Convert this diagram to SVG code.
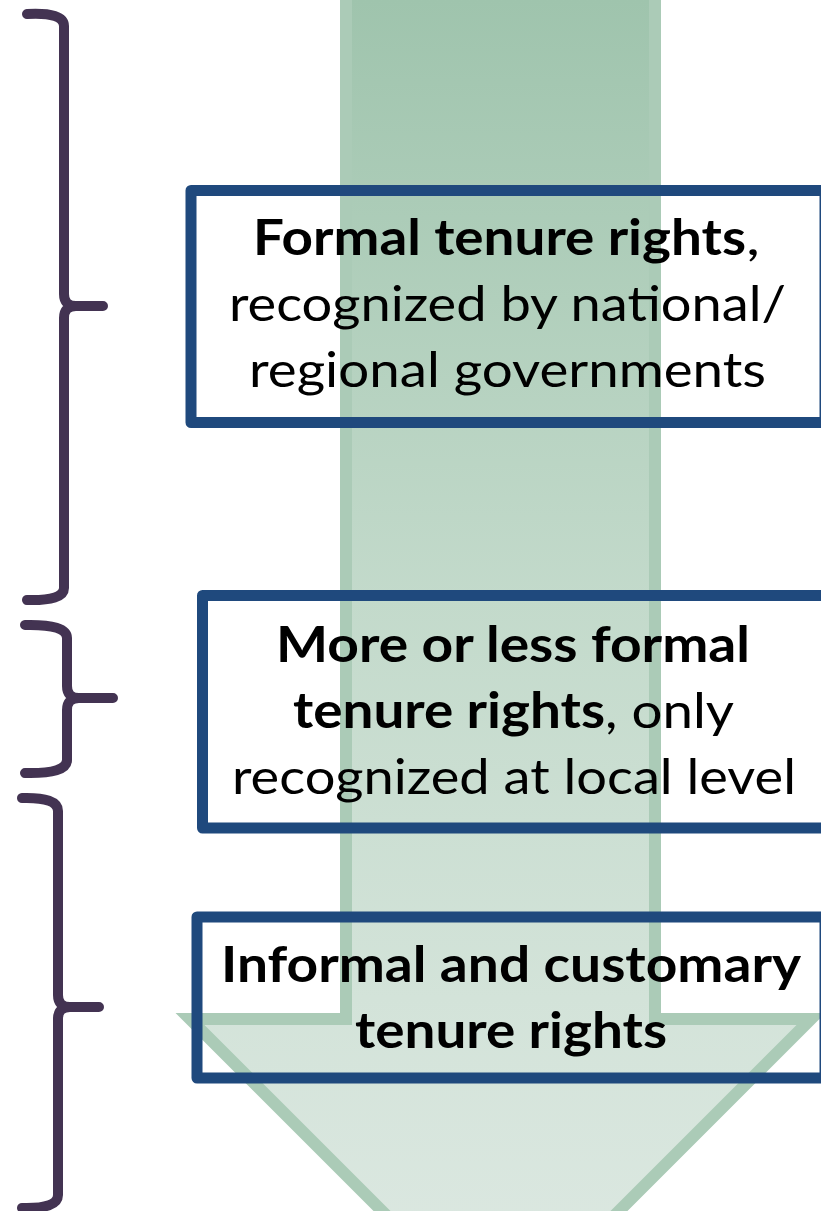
<svg xmlns="http://www.w3.org/2000/svg" width="821" height="1211" viewBox="0 0 821 1211">
  <defs>
    <linearGradient id="arrowFill" gradientUnits="userSpaceOnUse" x1="0" y1="0" x2="0" y2="1330">
      <stop offset="0" stop-color="#9fc4ad"/>
      <stop offset="0.45" stop-color="#c3dacb"/>
      <stop offset="0.75" stop-color="#d3e3d9"/>
      <stop offset="1" stop-color="#dee9e3"/>
    </linearGradient>
  </defs>
  <style>
    .brace { fill: none; stroke: #433352; stroke-width: 10; stroke-linecap: round; stroke-linejoin: round; }
    .box { fill: none; stroke: #1f497d; stroke-width: 11; stroke-linejoin: round; }
    .t { font-family: Lato, "Open Sans", "Liberation Sans", sans-serif; font-size: 49px; fill: #000000; }
    .b { font-weight: 700; }
    .r { font-weight: 400; }
  </style>

  <rect width="821" height="1211" fill="#ffffff"/>

  <!-- big downward arrow behind the boxes -->
  <g id="arrow">
    <path d="M346,-20 L655,-20 L655,1019 L811,1019 L500.5,1329.5 L190,1019 L346,1019 Z"
          fill="url(#arrowFill)" stroke="#abcbb7" stroke-width="12" stroke-linejoin="miter"/>
  </g>

  <!-- curly braces on the left -->
  <g id="connectors">
    <path class="brace" d="M27,14 Q64,12 64,26 L64,294 Q64,306 76,306 L103,306 M76,306 Q64,306 64,318 L64,588 Q64,601 27,600"/>
    <path class="brace" d="M25,625 Q67,624 67,638 L67,686 Q67,698 79,698 L113,698 M79,698 Q67,698 67,710 L67,760 Q67,774 25,773"/>
    <path class="brace" d="M22,798 Q58,797 58,811 L58,995 Q58,1007 70,1007 L99,1007 M70,1007 Q58,1007 58,1019 L58,1195 Q58,1209 22,1208"/>
  </g>

  <g id="node-formal">
    <rect class="box" x="191" y="190.5" width="634" height="232"/>
    <text class="t b" x="253" y="255" textLength="493" lengthAdjust="spacingAndGlyphs">Formal tenure rights</text>
    <text class="t r" x="746" y="255" textLength="14" lengthAdjust="spacingAndGlyphs">,</text>
    <text class="t r" x="229" y="321" textLength="557" lengthAdjust="spacingAndGlyphs">recognized by national/</text>
    <text class="t r" x="249" y="387" textLength="517" lengthAdjust="spacingAndGlyphs">regional governments</text>
  </g>

  <g id="node-local">
    <rect class="box" x="202.5" y="595.5" width="624" height="232.5"/>
    <text class="t b" x="276" y="662" textLength="474" lengthAdjust="spacingAndGlyphs">More or less formal</text>
    <text class="t b" x="293" y="728" textLength="312" lengthAdjust="spacingAndGlyphs">tenure rights</text>
    <text class="t r" x="605" y="728" textLength="129" lengthAdjust="spacingAndGlyphs">, only</text>
    <text class="t r" x="232" y="794" textLength="564" lengthAdjust="spacingAndGlyphs">recognized at local level</text>
  </g>

  <g id="node-informal">
    <rect class="box" x="197" y="917" width="628" height="161"/>
    <text class="t b" x="221" y="982" textLength="580" lengthAdjust="spacingAndGlyphs">Informal and customary</text>
    <text class="t b" x="355" y="1048" textLength="312" lengthAdjust="spacingAndGlyphs">tenure rights</text>
  </g>
</svg>
